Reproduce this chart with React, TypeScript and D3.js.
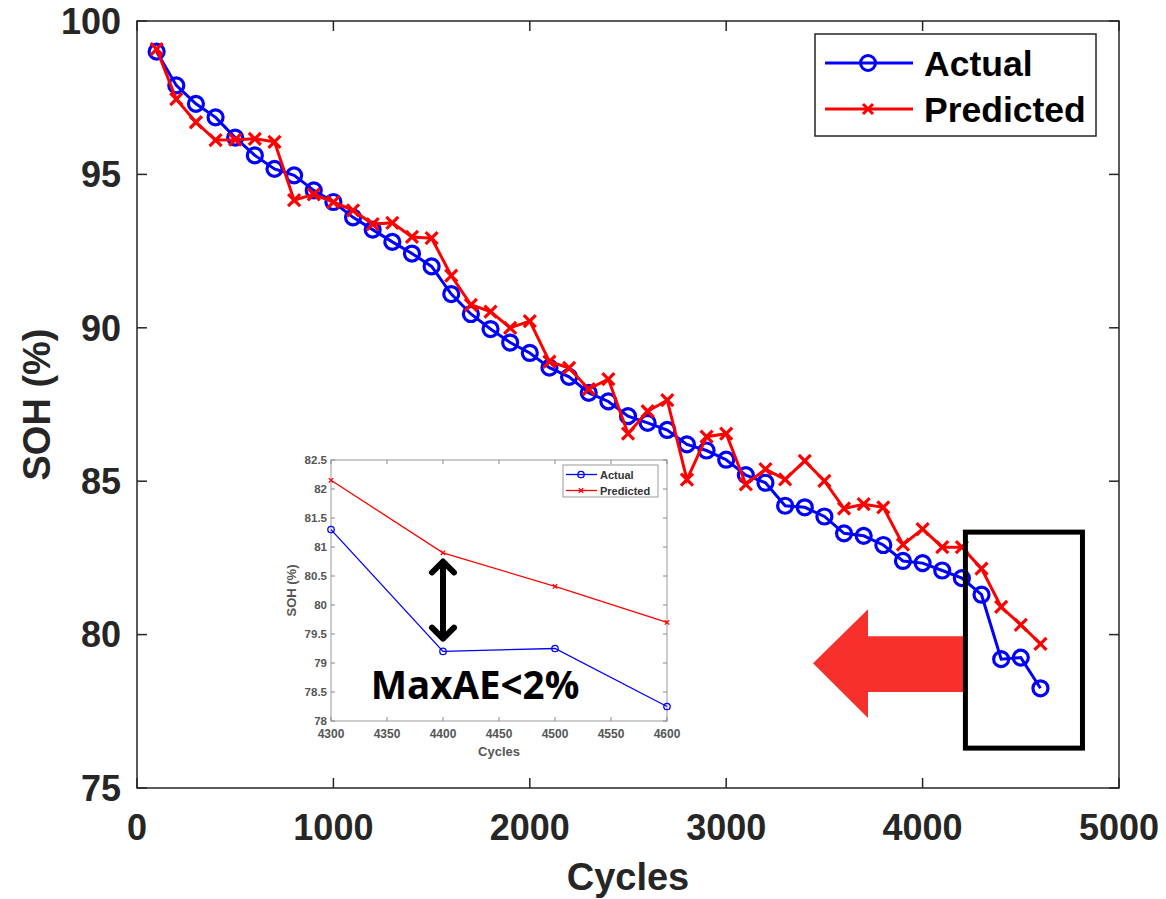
import React from "react";
import * as d3 from "d3";

// ---------------- data ----------------
const cycles = [
  100, 200, 300, 400, 500, 600, 700, 800, 900, 1000,
  1100, 1200, 1300, 1400, 1500, 1600, 1700, 1800, 1900, 2000,
  2100, 2200, 2300, 2400, 2500, 2600, 2700, 2800, 2900, 3000,
  3100, 3200, 3300, 3400, 3500, 3600, 3700, 3800, 3900, 4000,
  4100, 4200, 4300, 4400, 4500, 4600,
];
const actualSOH = [
  99.0, 97.9, 97.3, 96.86, 96.2, 95.62, 95.18, 94.97, 94.48, 94.1,
  93.6, 93.2, 92.8, 92.42, 92.0, 91.1, 90.45, 89.96, 89.52, 89.18,
  88.7, 88.4, 87.88, 87.6, 87.12, 86.9, 86.67, 86.2, 86.0, 85.7,
  85.2, 84.95, 84.2, 84.15, 83.85, 83.3, 83.22, 82.92, 82.4, 82.33,
  82.09, 81.84, 81.3, 79.2, 79.25, 78.25,
];
const predictedSOH = [
  99.08, 97.45, 96.7, 96.12, 96.13, 96.16, 96.06, 94.16, 94.35, 94.1,
  93.83, 93.38, 93.42, 92.96, 92.92, 91.7, 90.75, 90.53, 90.0, 90.22,
  88.9, 88.69, 88.0, 88.33, 86.55, 87.28, 87.64, 85.05, 86.45, 86.55,
  84.9, 85.39, 85.06, 85.66, 85.01, 84.11, 84.25, 84.15, 82.93, 83.44,
  82.85, 82.85, 82.15, 80.9, 80.32, 79.7,
];
const seriesNames = ["Actual", "Predicted"];
const xTicks = [0, 1000, 2000, 3000, 4000, 5000];
const yTicks = [75, 80, 85, 90, 95, 100];
const insetXTicks = [4300, 4350, 4400, 4450, 4500, 4550, 4600];
const insetYTicks = [78, 78.5, 79, 79.5, 80, 80.5, 81, 81.5, 82, 82.5];
const insetStartCycle = 4300;
const annotationText = "MaxAE<2%";
// zoom box + arrow in data units (cycles, SOH)
const zoomBox = { x0: 4218, x1: 4814, y0: 83.34, y1: 76.3 };
const bigArrow = { tip: 3442, headBase: 3722, end: 4206, yMid: 79.07, headTop: 80.83, headBot: 77.28, shaftTop: 79.95, shaftBot: 78.13 };
const gapArrow = { x: 4400, y0: 79.42, y1: 80.75 };

// ---------------- layout ----------------
const W = 1166;
const H = 899;
const M = { left: 137, right: 1119, top: 21, bottom: 788 };
const IN = { left: 331, right: 667, top: 460, bottom: 721 };
const FONT = "'Liberation Sans', Arial, Helvetica, sans-serif";
const AX = "#262626";
const BLUE = "#0000ff";
const RED = "#ff0000";

const xMarker = (a: number) => `M${-a},${-a}L${a},${a}M${-a},${a}L${a},${-a}`;

export default function App() {
  const x = d3.scaleLinear().domain([0, 5000]).range([M.left, M.right]);
  const y = d3.scaleLinear().domain([75, 100]).range([M.bottom, M.top]);
  const ix = d3.scaleLinear().domain([4300, 4600]).range([IN.left, IN.right]);
  const iy = d3.scaleLinear().domain([78, 82.5]).range([IN.bottom, IN.top]);

  const pts = (vals: number[]) => cycles.map((c, i) => [c, vals[i]] as [number, number]);
  const line = d3.line<[number, number]>().x((d) => x(d[0])).y((d) => y(d[1]));
  const iline = d3.line<[number, number]>().x((d) => ix(d[0])).y((d) => iy(d[1]));
  const actPts = pts(actualSOH);
  const predPts = pts(predictedSOH);
  const insetAct = actPts.filter((d) => d[0] >= insetStartCycle);
  const insetPred = predPts.filter((d) => d[0] >= insetStartCycle);

  const arrowPath = [
    [bigArrow.tip, bigArrow.yMid],
    [bigArrow.headBase, bigArrow.headTop],
    [bigArrow.headBase, bigArrow.shaftTop],
    [bigArrow.end, bigArrow.shaftTop],
    [bigArrow.end, bigArrow.shaftBot],
    [bigArrow.headBase, bigArrow.shaftBot],
    [bigArrow.headBase, bigArrow.headBot],
  ]
    .map((p, i) => `${i ? "L" : "M"}${x(p[0])},${y(p[1])}`)
    .join("") + "Z";

  const gx = ix(gapArrow.x);
  const gy0 = iy(gapArrow.y0);
  const gy1 = iy(gapArrow.y1);

  return (
    <div style={{ position: "absolute", left: 0, top: 0 }}>
      <svg width={W} height={H} style={{ display: "block", background: "#fff" }}>
        <rect x={0} y={0} width={W} height={H} fill="#fff" />
        {/* main axes box */}
        <rect x={M.left} y={M.top} width={M.right - M.left} height={M.bottom - M.top} fill="#fff" stroke={AX} strokeWidth={1.5} />
        {xTicks.map((t) => (
          <g key={"xt" + t}>
            <line x1={x(t)} x2={x(t)} y1={M.bottom} y2={M.bottom - 10} stroke={AX} strokeWidth={1.5} />
            <line x1={x(t)} x2={x(t)} y1={M.top} y2={M.top + 10} stroke={AX} strokeWidth={1.5} />
            <text x={x(t)} y={840} textAnchor="middle" fontFamily={FONT} fontWeight="bold" fontSize={36} fill={AX}>
              {t}
            </text>
          </g>
        ))}
        {yTicks.map((t) => (
          <g key={"yt" + t}>
            <line x1={M.left} x2={M.left + 10} y1={y(t)} y2={y(t)} stroke={AX} strokeWidth={1.5} />
            <line x1={M.right} x2={M.right - 10} y1={y(t)} y2={y(t)} stroke={AX} strokeWidth={1.5} />
            <text x={121} y={y(t) + 12.8} textAnchor="end" fontFamily={FONT} fontWeight="bold" fontSize={36} fill={AX}>
              {t}
            </text>
          </g>
        ))}
        <text x={(M.left + M.right) / 2} y={890} textAnchor="middle" fontFamily={FONT} fontWeight="bold" fontSize={38} fill={AX}>
          Cycles
        </text>
        <text
          transform={`translate(50,${(M.top + M.bottom) / 2}) rotate(-90)`}
          textAnchor="middle"
          fontFamily={FONT}
          fontWeight="bold"
          fontSize={38}
          fill={AX}
        >
          SOH (%)
        </text>

        {/* series */}
        <path d={line(actPts) || ""} fill="none" stroke={BLUE} strokeWidth={3} />
        {actPts.map((d, i) => (
          <circle key={"a" + i} cx={x(d[0])} cy={y(d[1])} r={7.5} fill="none" stroke={BLUE} strokeWidth={3.2} />
        ))}
        <path d={line(predPts) || ""} fill="none" stroke={RED} strokeWidth={3} />
        {predPts.map((d, i) => (
          <path key={"p" + i} d={xMarker(6)} transform={`translate(${x(d[0])},${y(d[1])})`} fill="none" stroke={RED} strokeWidth={3.2} />
        ))}

        {/* big red arrow + zoom box */}
        <path d={arrowPath} fill="#f8302c" />
        <rect
          x={x(zoomBox.x0)}
          y={y(zoomBox.y0)}
          width={x(zoomBox.x1) - x(zoomBox.x0)}
          height={y(zoomBox.y1) - y(zoomBox.y0)}
          fill="none"
          stroke="#000"
          strokeWidth={5}
        />

        {/* legend */}
        <rect x={815} y={34} width={281} height={102} fill="#fff" stroke={AX} strokeWidth={1.5} />
        {seriesNames.map((name, i) => {
          const ly = 63 + i * 46;
          const color = i === 0 ? BLUE : RED;
          return (
            <g key={name}>
              <line x1={825} x2={913} y1={ly} y2={ly} stroke={color} strokeWidth={3} />
              {i === 0 ? (
                <circle cx={868} cy={ly} r={7.5} fill="none" stroke={color} strokeWidth={3} />
              ) : (
                <path d={xMarker(5)} transform={`translate(868,${ly})`} stroke={color} strokeWidth={3} />
              )}
              <text x={924} y={ly + 12.5} fontFamily={FONT} fontWeight="bold" fontSize={35.5} fill="#000">
                {name}
              </text>
            </g>
          );
        })}

        {/* inset */}
        <g>
          <rect x={IN.left} y={IN.top} width={IN.right - IN.left} height={IN.bottom - IN.top} fill="#fff" stroke="#9a9a9a" strokeWidth={1} />
          {insetXTicks.map((t) => (
            <g key={"ixt" + t}>
              <line x1={ix(t)} x2={ix(t)} y1={IN.bottom} y2={IN.bottom - 4} stroke="#888" />
              <line x1={ix(t)} x2={ix(t)} y1={IN.top} y2={IN.top + 4} stroke="#888" />
              <text x={ix(t)} y={738} textAnchor="middle" fontFamily={FONT} fontWeight="bold" fontSize={12} fill="#555">
                {t}
              </text>
            </g>
          ))}
          {insetYTicks.map((t) => (
            <g key={"iyt" + t}>
              <line x1={IN.left} x2={IN.left + 4} y1={iy(t)} y2={iy(t)} stroke="#888" />
              <line x1={IN.right} x2={IN.right - 4} y1={iy(t)} y2={iy(t)} stroke="#888" />
              <text x={327} y={iy(t) + 4} textAnchor="end" fontFamily={FONT} fontWeight="bold" fontSize={11.5} fill="#555">
                {t}
              </text>
            </g>
          ))}
          <text x={(IN.left + IN.right) / 2} y={756} textAnchor="middle" fontFamily={FONT} fontWeight="bold" fontSize={13} fill="#555">
            Cycles
          </text>
          <text
            transform={`translate(296,${(IN.top + IN.bottom) / 2}) rotate(-90)`}
            textAnchor="middle"
            fontFamily={FONT}
            fontWeight="bold"
            fontSize={13}
            fill="#555"
          >
            SOH (%)
          </text>
          <path d={iline(insetAct) || ""} fill="none" stroke={BLUE} strokeWidth={1.3} />
          {insetAct.map((d, i) => (
            <circle key={"ia" + i} cx={ix(d[0])} cy={iy(d[1])} r={3.2} fill="none" stroke={BLUE} strokeWidth={1.3} />
          ))}
          <path d={iline(insetPred) || ""} fill="none" stroke={RED} strokeWidth={1.3} />
          {insetPred.map((d, i) => (
            <path key={"ip" + i} d={xMarker(2.2)} transform={`translate(${ix(d[0])},${iy(d[1])})`} stroke={RED} strokeWidth={1.3} />
          ))}
          {/* inset legend */}
          <rect x={563} y={465} width={95} height={32} fill="#fff" stroke="#9a9a9a" strokeWidth={1} />
          {seriesNames.map((name, i) => {
            const ly = 474.5 + i * 16;
            const color = i === 0 ? BLUE : RED;
            return (
              <g key={"il" + name}>
                <line x1={566} x2={597} y1={ly} y2={ly} stroke={color} strokeWidth={1.3} />
                {i === 0 ? (
                  <circle cx={581} cy={ly} r={3.2} fill="none" stroke={color} strokeWidth={1.3} />
                ) : (
                  <path d={xMarker(2.2)} transform={`translate(581,${ly})`} stroke={color} strokeWidth={1.3} />
                )}
                <text x={600} y={ly + 4} fontFamily={FONT} fontWeight="bold" fontSize={11} fill="#333">
                  {name}
                </text>
              </g>
            );
          })}
          {/* double arrow */}
          <g stroke="#000" strokeWidth={6} strokeLinecap="round" strokeLinejoin="round" fill="none">
            <line x1={gx} x2={gx} y1={gy1 + 3} y2={gy0 - 3} />
            <polyline points={`${gx - 11},${gy1 + 11} ${gx},${gy1} ${gx + 11},${gy1 + 11}`} />
            <polyline points={`${gx - 11},${gy0 - 11} ${gx},${gy0} ${gx + 11},${gy0 - 11}`} />
          </g>
          <text x={475} y={699} textAnchor="middle" fontFamily="'Open Sans', sans-serif" fontWeight="bold" fontSize={38.5} fill="#000">
            {annotationText}
          </text>
        </g>
      </svg>
    </div>
  );
}
